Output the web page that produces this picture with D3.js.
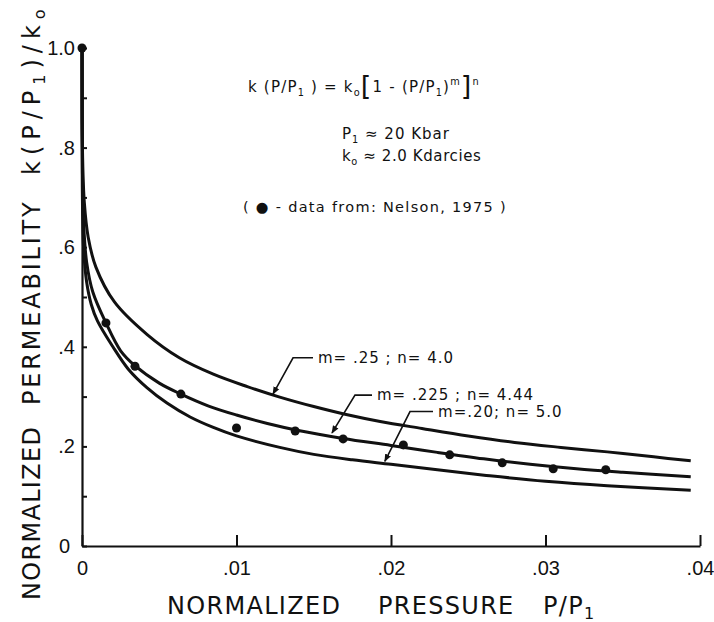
<!DOCTYPE html>
<html>
<head>
<meta charset="utf-8">
<script src="https://cdn.jsdelivr.net/npm/d3@7"></script>
<style>
  body { margin: 0; background: #fff; }
  text { font-family: "DejaVu Sans", sans-serif; fill: #111; }
</style>
</head>
<body>
<div id="chart"></div>
<script>
// ---- data ----
// curve m=.25 ; n=4.0
const topX = [0, 0.00004, 0.00015, 0.0004, 0.0009, 0.0021, 0.0042, 0.0063, 0.0085, 0.0107, 0.0128, 0.0150, 0.0171, 0.0193, 0.0220, 0.0250, 0.0280, 0.0310, 0.0340, 0.0370, 0.0394];
const topY = [1.0, 0.78, 0.69, 0.62, 0.56, 0.49, 0.425, 0.378, 0.345, 0.320, 0.299, 0.280, 0.264, 0.250, 0.236, 0.221, 0.208, 0.198, 0.189, 0.179, 0.171];
// curve m=.225 ; n=4.44
const midX = [0, 0.00003, 0.0001, 0.0003, 0.0007, 0.00155, 0.0025, 0.00343, 0.0050, 0.0064, 0.0082, 0.0100, 0.0120, 0.0140, 0.0169, 0.0200, 0.0230, 0.0260, 0.0290, 0.0320, 0.0350, 0.0394];
const midY = [1.0, 0.75, 0.65, 0.57, 0.51, 0.448, 0.392, 0.362, 0.327, 0.305, 0.281, 0.263, 0.246, 0.232, 0.216, 0.202, 0.188, 0.175, 0.164, 0.155, 0.148, 0.139];
// curve m=.20 ; n=5.0
const botX = [0, 0.00002, 0.0001, 0.0003, 0.0006, 0.001, 0.002, 0.0030, 0.0042, 0.0055, 0.0070, 0.0085, 0.0100, 0.0128, 0.0150, 0.0175, 0.0200, 0.0230, 0.0264, 0.0300, 0.0340, 0.0394];
const botY = [1.0, 0.72, 0.60, 0.53, 0.485, 0.452, 0.400, 0.355, 0.318, 0.287, 0.259, 0.238, 0.221, 0.198, 0.184, 0.173, 0.164, 0.153, 0.141, 0.130, 0.121, 0.112];
// Nelson (1975) data points
const ptX = [0, 0.00155, 0.00343, 0.0064, 0.0100, 0.0138, 0.0169, 0.0208, 0.0238, 0.0272, 0.0305, 0.0339];
const ptY = [1.0, 0.448, 0.361, 0.305, 0.237, 0.231, 0.215, 0.203, 0.183, 0.167, 0.155, 0.153];

const xTickValues = [0, 0.01, 0.02, 0.03, 0.04];
const xTickLabels = ["0", ".01", ".02", ".03", ".04"];
const yTickValues = [0, 0.1, 0.2, 0.3, 0.4, 0.5, 0.6, 0.7, 0.8, 0.9, 1.0];
const yTickLabels = ["0", "", ".2", "", ".4", "", ".6", "", ".8", "", "1.0"];

// curve labels: text, arrow tip, elbow, end of horizontal stroke (data units)
const annText = ["m= .25 ; n= 4.0", "m= .225 ; n= 4.44", "m=.20; n= 5.0"];
const annTip = [[0.01236, 0.305], [0.01618, 0.227], [0.0196, 0.170]];
const annElbow = [[0.01366, 0.378], [0.01767, 0.303], [0.02123, 0.270]];
const annEnd = [[0.01495, 0.378], [0.01877, 0.303], [0.02272, 0.270]];

const width = 714, height = 622;

const svg = d3.select("#chart").append("svg")
  .attr("width", width)
  .attr("height", height);

const x = d3.scaleLinear().domain([0, 0.04]).range([82, 700]);
const y = d3.scaleLinear().domain([0, 1]).range([546, 48]);

// axes
const xAxis = d3.axisBottom(x)
  .tickValues(xTickValues)
  .tickSizeInner(-11)
  .tickSizeOuter(0)
  .tickPadding(15)
  .tickFormat((d, i) => xTickLabels[i]);

const yAxis = d3.axisLeft(y)
  .tickValues(yTickValues)
  .tickSizeInner(-5)
  .tickSizeOuter(0)
  .tickPadding(8)
  .tickFormat((d, i) => yTickLabels[i]);

const gx = svg.append("g")
  .attr("transform", "translate(0," + y(0) + ")")
  .call(xAxis);
const gy = svg.append("g")
  .attr("transform", "translate(" + x(0) + ",0)")
  .call(yAxis);

[gx, gy].forEach(g => {
  g.attr("font-family", null).attr("font-size", null);
  g.select(".domain").attr("stroke", "#111").attr("stroke-width", 2.2);
  g.selectAll(".tick line").attr("stroke", "#111").attr("stroke-width", 2);
  g.selectAll(".tick text")
    .style("font-family", "'Liberation Sans', sans-serif")
    .style("font-size", "20px")
    .attr("fill", "#111");
});
gy.selectAll(".tick text").attr("x", -7);
gy.selectAll(".tick").filter(d => d === 0).select("text").attr("x", -12);

// curves
const line = d3.line()
  .x(d => x(d[0]))
  .y(d => y(d[1]))
  .curve(d3.curveCatmullRom.alpha(0.5));

const curves = [d3.zip(topX, topY), d3.zip(midX, midY), d3.zip(botX, botY)];

svg.append("g").selectAll("path")
  .data(curves)
  .join("path")
  .attr("d", line)
  .attr("fill", "none")
  .attr("stroke", "#111")
  .attr("stroke-width", 3)
  .attr("stroke-linejoin", "round");

// data points
svg.append("g").selectAll("circle")
  .data(d3.zip(ptX, ptY))
  .join("circle")
  .attr("cx", d => x(d[0]))
  .attr("cy", d => y(d[1]))
  .attr("r", 4.5)
  .attr("fill", "#111");

// arrowhead
svg.append("defs").append("marker")
  .attr("id", "arr")
  .attr("viewBox", "0 0 10 10")
  .attr("refX", 9)
  .attr("refY", 5)
  .attr("markerWidth", 5)
  .attr("markerHeight", 5)
  .attr("orient", "auto")
  .append("path")
  .attr("d", "M0,1 L10,5 L0,9 Z")
  .attr("fill", "#111");

// curve labels with leaders
annText.forEach((t, i) => {
  const pts = [annEnd[i], annElbow[i], annTip[i]].map(p => [x(p[0]), y(p[1])]);
  svg.append("path")
    .attr("d", d3.line()(pts))
    .attr("fill", "none")
    .attr("stroke", "#111")
    .attr("stroke-width", 1.6)
    .attr("marker-end", "url(#arr)");
  svg.append("text")
    .attr("x", x(annEnd[i][0]) + 5)
    .attr("y", y(annEnd[i][1]) + 5)
    .attr("font-size", 15)
    .attr("letter-spacing", 1)
    .text(t);
});

// helper for text with sub/superscripts
function richText(xp, yp, size, parts, spacing) {
  const t = svg.append("text")
    .attr("x", xp)
    .attr("y", yp)
    .attr("font-size", size)
    .attr("letter-spacing", spacing);
  let shift = 0;
  parts.forEach(p => {
    const s = p[1] === "sub" ? 4 : p[1] === "sup" ? -7 : p[1] === "big" ? 3 : 0;
    const fs = p[1] === "sub" || p[1] === "sup" ? size * 0.65 : p[1] === "big" ? size * 1.8 : size;
    t.append("tspan")
      .attr("dy", s - shift)
      .attr("font-size", fs)
      .text(p[0]);
    shift = s;
  });
  return t;
}

// formula block
richText(248, 92, 15, [
  ["k (P/P", ""], ["1", "sub"], [" ) = k", ""], ["o", "sub"],
  ["[", "big"], ["1 - (P/P", ""], ["1", "sub"], [")", ""], ["m", "sup"],
  ["]", "big"], ["n", "sup"]
], 1.2);

richText(342, 139, 15, [["P", ""], ["1", "sub"], [" ≈ 20  Kbar", ""]], 1);
richText(342, 161, 15, [["k", ""], ["o", "sub"], [" ≈ 2.0 Kdarcies", ""]], 0.6);

svg.append("text")
  .attr("x", 243)
  .attr("y", 212)
  .attr("font-size", 14.5)
  .attr("letter-spacing", 1.3)
  .text("( ● - data from: Nelson, 1975 )");

// axis titles
const xt = svg.append("text")
  .attr("y", 614)
  .attr("font-size", 24)
  .attr("letter-spacing", 1.3);
xt.append("tspan").attr("x", 167).text("NORMALIZED");
xt.append("tspan").attr("x", 378).text("PRESSURE");
xt.append("tspan").attr("x", 543).text("P/P");
xt.append("tspan").attr("dy", 5).attr("font-size", 16).text("1");

const yt = svg.append("text")
  .attr("font-size", 24)
  .attr("letter-spacing", 1.3)
  .attr("transform", "translate(40,600) rotate(-90)");
yt.append("tspan").attr("x", 0).text("NORMALIZED");
yt.append("tspan").attr("x", 195).attr("letter-spacing", 2.8).text("PERMEABILITY");
yt.append("tspan").attr("x", 425).attr("letter-spacing", 6).text("k(P/P");
yt.append("tspan").attr("dy", 5).attr("font-size", 16).attr("letter-spacing", 6).text("1");
yt.append("tspan").attr("dy", -5).attr("letter-spacing", 6).text(")/k");
yt.append("tspan").attr("dy", 5).attr("font-size", 16).text("o");
</script>
</body>
</html>
